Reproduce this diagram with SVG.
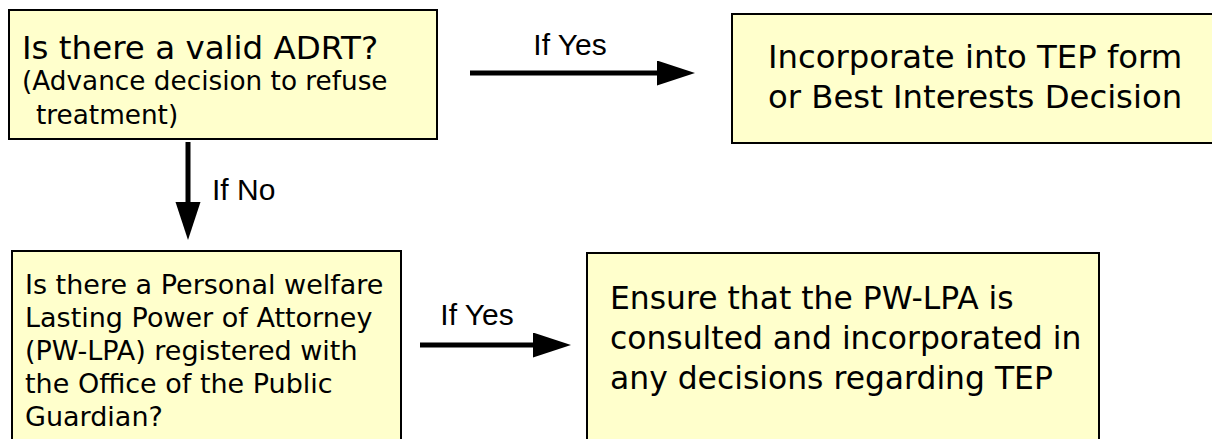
<svg xmlns="http://www.w3.org/2000/svg" width="1212" height="439" viewBox="0 0 1212 439">
<style>
.box{fill:#FFFFCC;stroke:#000;stroke-width:2}
.t{font-family:"DejaVu Sans",Verdana,sans-serif;fill:#000}
.lbl{font-family:"Liberation Sans",Arial,sans-serif;font-size:30px;fill:#000}
.conn{stroke:#000;stroke-width:5;fill:none}
</style>
<defs>
<marker id="ah" markerUnits="userSpaceOnUse" markerWidth="40" markerHeight="28" refX="0" refY="12.5" orient="auto">
<path d="M0,0 L38,12.5 L0,25 z" fill="#000"/>
</marker>
</defs>
<rect width="1212" height="439" fill="#fff"/>
<g id="node-adrt">
<rect class="box" x="9" y="10" width="428" height="129"/>
<text class="t" x="22" y="59" font-size="32.5">Is there a valid ADRT?</text>
<text class="t" x="22" y="90" font-size="26.3">(Advance decision to refuse</text>
<text class="t" x="36" y="124" font-size="26.3">treatment)</text>
</g>
<g id="node-incorporate">
<rect class="box" x="732" y="14" width="500" height="129"/>
<text class="t" x="768" y="68" font-size="32.3">Incorporate into TEP form</text>
<text class="t" x="768" y="108" font-size="32.3">or Best Interests Decision</text>
</g>
<g id="node-pwlpa">
<rect class="box" x="12" y="251" width="389" height="210"/>
<text class="t" x="25" y="294" font-size="27">Is there a Personal welfare</text>
<text class="t" x="25" y="327" font-size="27">Lasting Power of Attorney</text>
<text class="t" x="25" y="360" font-size="27">(PW-LPA) registered with</text>
<text class="t" x="25" y="393" font-size="27">the Office of the Public</text>
<text class="t" x="25" y="426" font-size="27">Guardian?</text>
</g>
<g id="node-ensure">
<rect class="box" x="587" y="253" width="512" height="210"/>
<text class="t" x="610" y="309" font-size="31.4">Ensure that the PW-LPA is</text>
<text class="t" x="610" y="349" font-size="31.4">consulted and incorporated in</text>
<text class="t" x="610" y="389" font-size="31.4">any decisions regarding TEP</text>
</g>
<g id="connectors">
<line class="conn" x1="470" y1="73" x2="657" y2="73" marker-end="url(#ah)"/>
<text class="lbl" x="570" y="55" text-anchor="middle">If Yes</text>
<line class="conn" x1="188" y1="142" x2="188" y2="202" marker-end="url(#ah)"/>
<text class="lbl" x="212" y="200">If No</text>
<line class="conn" x1="420" y1="345" x2="533" y2="345" marker-end="url(#ah)"/>
<text class="lbl" x="477" y="325" text-anchor="middle">If Yes</text>
</g>
</svg>
